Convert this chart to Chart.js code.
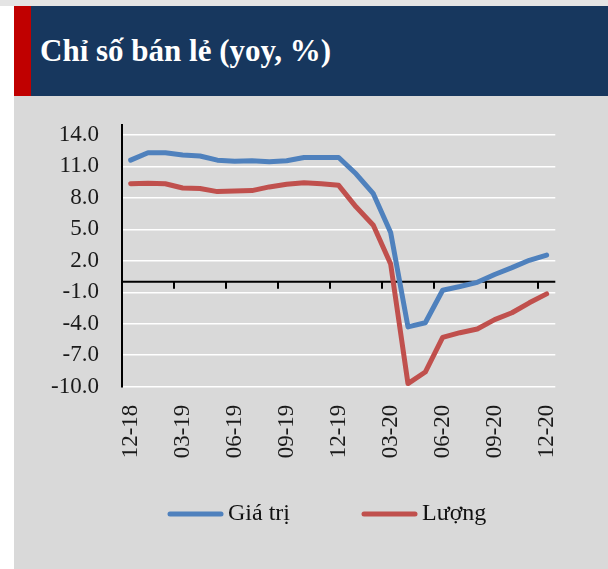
<!DOCTYPE html>
<html><head><meta charset="utf-8">
<script src="https://cdn.jsdelivr.net/npm/chart.js@4"></script>
<style>
html,body{margin:0;padding:0;width:608px;height:569px;overflow:hidden;background:#fff;}
#top{position:absolute;left:0;top:0;width:608px;height:6px;background:#e4e4e4;}
#panel{position:absolute;left:14px;top:96px;width:594px;height:473px;background:#d9d9d9;}
#header{position:absolute;left:14px;top:6px;width:594px;height:90px;background:#17375e;}
#bar{position:absolute;left:14px;top:6px;width:17px;height:90px;background:#c00000;}
#title{position:absolute;left:40px;top:6px;height:90px;line-height:90px;color:#fff;font-weight:bold;font-size:31px;font-family:"Liberation Serif",serif;white-space:nowrap;}
canvas{position:absolute;left:0;top:0;}
</style></head><body>
<div id="top"></div><div id="header"></div><div id="bar"></div>
<div id="title">Chỉ số bán lẻ (yoy, %)</div>
<div id="panel"></div>
<canvas id="c" width="608" height="569"></canvas>
<script>
const months = ['12-18','01-19','02-19','03-19','04-19','05-19','06-19','07-19','08-19','09-19','10-19','11-19','12-19',
                '01-20','02-20','03-20','04-20','05-20','06-20','07-20','08-20','09-20','10-20','11-20','12-20'];
const giaTri = [11.6, 12.3, 12.3, 12.1, 12.0, 11.6, 11.5, 11.55, 11.45, 11.55, 11.85, 11.85, 11.85,
                10.3, 8.4, 4.7, -4.3, -3.9, -0.8, -0.45, -0.05, 0.7, 1.35, 2.05, 2.55];
const luong  = [9.35, 9.4, 9.35, 8.95, 8.9, 8.6, 8.65, 8.7, 9.05, 9.3, 9.45, 9.35, 9.2,
                7.15, 5.4, 1.7, -9.7, -8.6, -5.3, -4.85, -4.5, -3.6, -2.95, -2.0, -1.15];
const yTicks = [-10, -7, -4, -1, 2, 5, 8, 11, 14];
const seriesNames = ['Giá trị', 'Lượng'];

const FONT = '"Liberation Serif", serif';

const zeroAxis = {
  id: 'zeroAxis',
  beforeDatasetsDraw(chart) {
    const {ctx, chartArea, scales: {x, y}} = chart;
    const y0 = y.getPixelForValue(0);
    const half = (x.getPixelForValue(1) - x.getPixelForValue(0)) / 2;
    ctx.save();
    ctx.strokeStyle = '#000';
    ctx.lineWidth = 2;
    ctx.beginPath();
    ctx.moveTo(chartArea.left, y0);
    ctx.lineTo(chartArea.right, y0);
    for (let i = 3; i < months.length; i += 3) {
      const px = Math.round(x.getPixelForValue(i) - half);
      ctx.moveTo(px, y0);
      ctx.lineTo(px, y0 + 7);
    }
    ctx.stroke();
    ctx.restore();
  }
};

const lineLegend = {
  id: 'lineLegend',
  afterDraw(chart) {
    const ctx = chart.ctx;
    const xs = [170, 364];
    const yy = 514;
    ctx.save();
    ctx.font = '24px ' + FONT;
    ctx.textBaseline = 'middle';
    ctx.textAlign = 'left';
    chart.data.datasets.forEach((ds, i) => {
      ctx.strokeStyle = ds.borderColor;
      ctx.lineWidth = ds.borderWidth;
      ctx.lineCap = 'round';
      ctx.beginPath();
      ctx.moveTo(xs[i], yy);
      ctx.lineTo(xs[i] + 51, yy);
      ctx.stroke();
      ctx.fillStyle = '#111';
      ctx.fillText(ds.label, xs[i] + 58, yy);
    });
    ctx.restore();
  }
};

new Chart(document.getElementById('c'), {
  type: 'line',
  data: {
    labels: months,
    datasets: [
      {label: seriesNames[0], data: giaTri, borderColor: '#4f81bd', backgroundColor: '#4f81bd',
       borderWidth: 5, pointRadius: 0, tension: 0, borderJoinStyle: 'round', borderCapStyle: 'round'},
      {label: seriesNames[1], data: luong, borderColor: '#c0504d', backgroundColor: '#c0504d',
       borderWidth: 5, pointRadius: 0, tension: 0, borderJoinStyle: 'round', borderCapStyle: 'round'}
    ]
  },
  options: {
    responsive: false,
    animation: false,
    layout: {padding: {left: 0, right: 52.7, top: 124.5, bottom: 0}},
    plugins: {legend: {display: false}, tooltip: {enabled: false}},
    scales: {
      x: {
        type: 'category',
        offset: true,
        grid: {display: false, drawTicks: false},
        border: {display: false},
        ticks: {
          autoSkip: false, maxRotation: 90, minRotation: 90, padding: 18,
          color: '#1a1a1a', font: {family: FONT, size: 23},
          callback: function(v, i) { return i % 3 === 0 ? months[i] : ''; }
        },
        afterFit: s => { s.height = 182.3; }
      },
      y: {
        min: -10, max: 15,
        afterBuildTicks: s => { s.ticks = yTicks.map(v => ({value: v})); },
        grid: {color: '#ffffff', lineWidth: 1.5, drawTicks: false},
        border: {display: true, color: '#000', width: 2},
        ticks: {
          padding: 23, color: '#1a1a1a', font: {family: FONT, size: 23},
          callback: v => v.toFixed(1)
        },
        afterFit: s => { s.width = 122; }
      }
    }
  },
  plugins: [zeroAxis, lineLegend]
});
</script>
</body></html>
